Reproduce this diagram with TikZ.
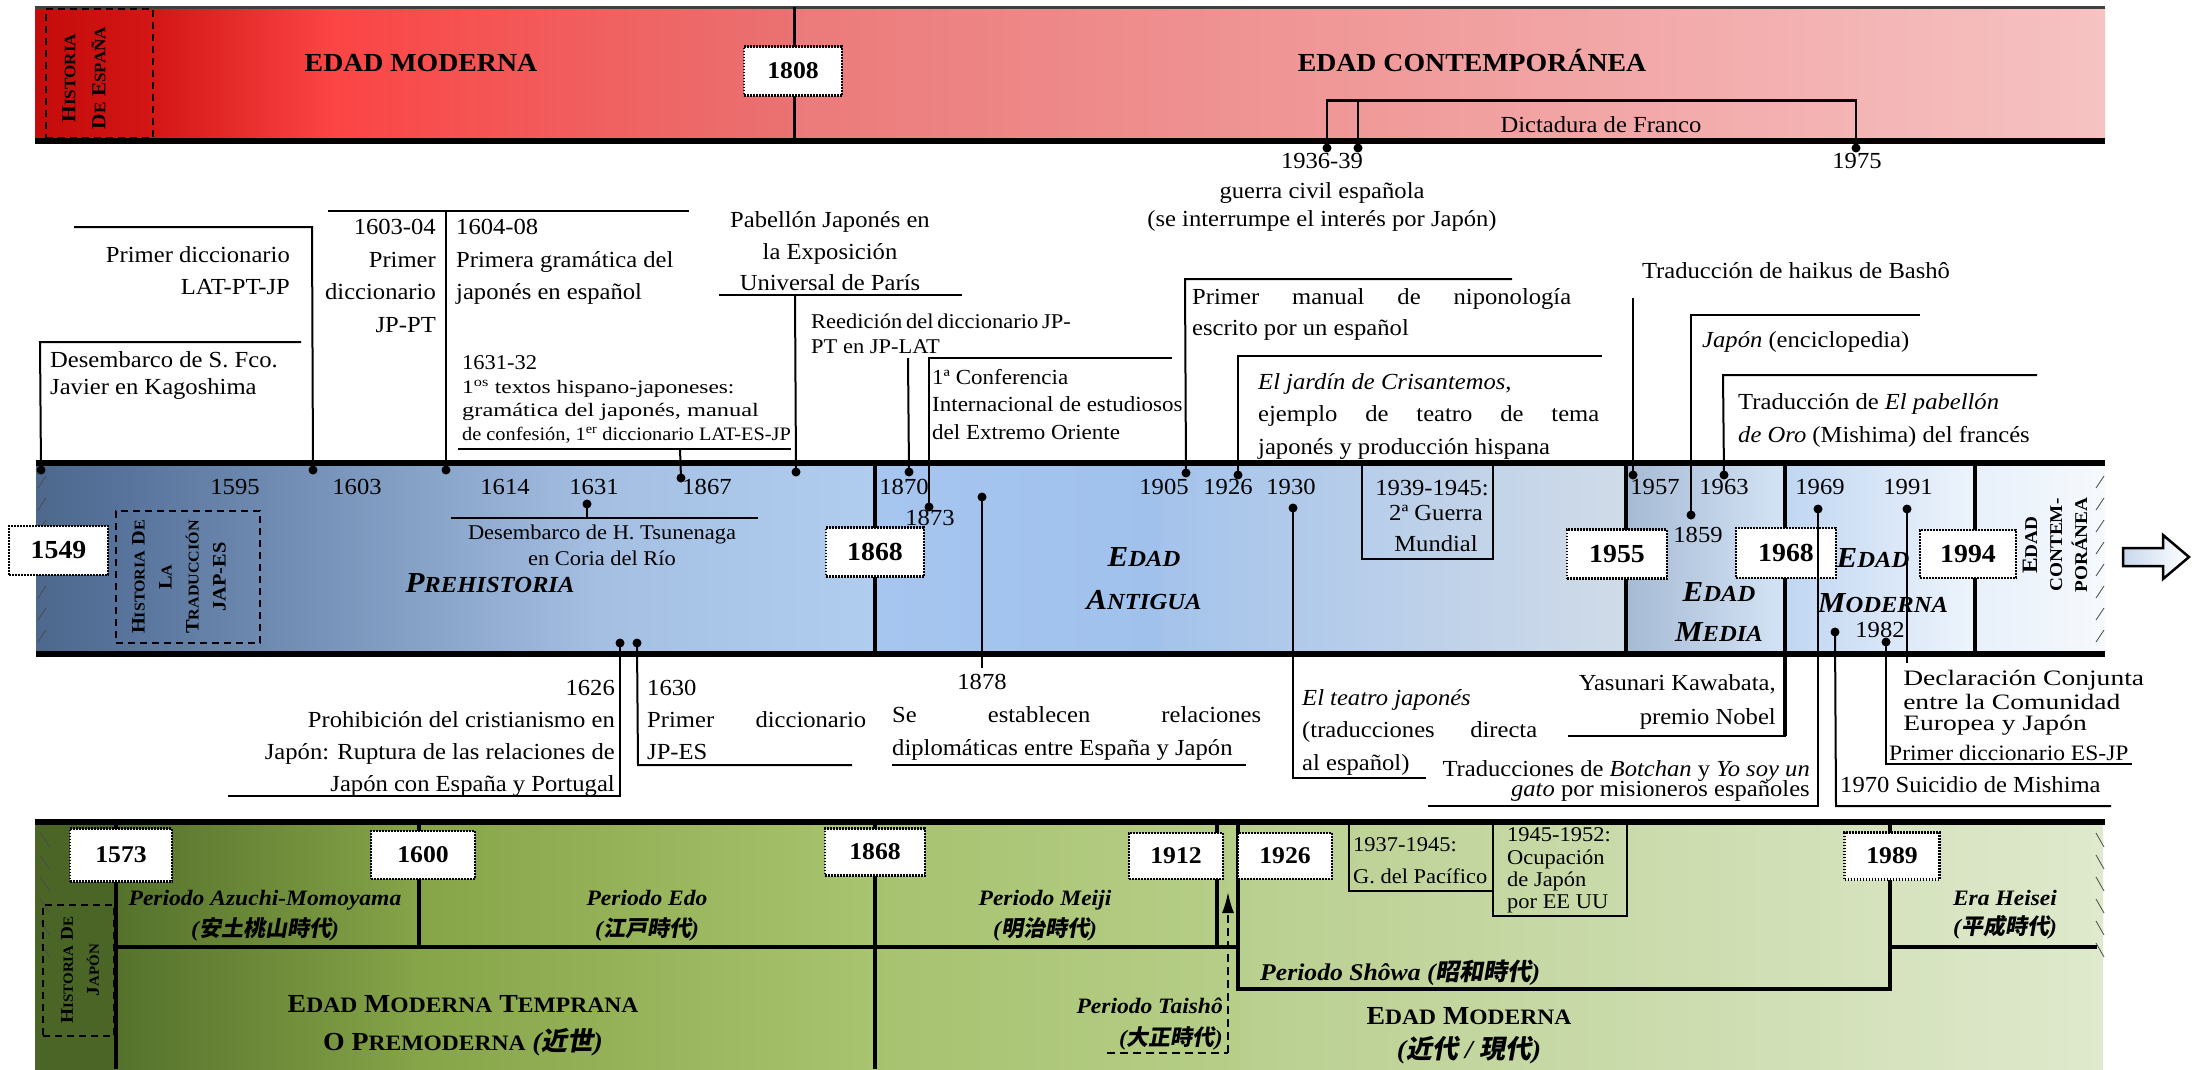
\documentclass[tikz,border=0pt]{standalone}
\usepackage{fontspec}
\setmainfont{Liberation Serif}[FakeStretch=1.07]
\newfontfamily\jpfont{Noto Sans CJK JP}[FakeSlant=0.18]
\usetikzlibrary{arrows.meta}

% colours of the three bands
\definecolor{rA}{HTML}{C50B0B}\definecolor{rB}{HTML}{D41616}\definecolor{rC}{HTML}{FC4444}
\definecolor{rD}{HTML}{F06060}\definecolor{rE}{HTML}{EA7272}\definecolor{rF}{HTML}{EC7A7A}
\definecolor{rG}{HTML}{F6C2C2}
\definecolor{bA}{HTML}{4D688C}\definecolor{bB}{HTML}{56729A}\definecolor{bC}{HTML}{A4BFE2}
\definecolor{bD}{HTML}{B0CDF0}\definecolor{bE}{HTML}{A6C6F0}\definecolor{bF}{HTML}{A0C1EC}
\definecolor{bG}{HTML}{A4C3EB}\definecolor{bH}{HTML}{D0DBE8}\definecolor{bI}{HTML}{A6BAD4}
\definecolor{bJ}{HTML}{D4E4F6}\definecolor{bK}{HTML}{C0D6F2}\definecolor{bL}{HTML}{EEF4FC}
\definecolor{bM}{HTML}{E8F0FA}\definecolor{bN}{HTML}{F6F9FD}
\definecolor{gA}{HTML}{4A6526}\definecolor{gB}{HTML}{55722C}\definecolor{gC}{HTML}{86A448}
\definecolor{gD}{HTML}{A9C46F}\definecolor{gE}{HTML}{A7C26F}\definecolor{gF}{HTML}{B6CE88}
\definecolor{gG}{HTML}{B9CF8F}\definecolor{gH}{HTML}{DFE9CD}

% fake small capitals: first letter, then the rest at a smaller size
\newcommand{\fsc}[3]{#1{\fontsize{#3}{#3}\selectfont #2}}
\newcommand{\jp}[1]{{\jpfont #1}}

\tikzset{
  lbl/.style={inner sep=0pt},
  fxxiii/.style={font=\fontsize{23}{27}\selectfont},
  fxxii/.style={font=\fontsize{22}{26}\selectfont},
  fxxi/.style={font=\fontsize{21}{25}\selectfont},
  fxix/.style={font=\fontsize{19}{23}\selectfont},
  yrbox/.style={draw, line width=2.4pt, dash pattern=on 1.6pt off 1.4pt, fill=white,
    inner sep=0pt, font=\bfseries\fontsize{24}{28}\selectfont},
  conn/.style={line width=2pt},
  bandline/.style={line width=6pt},
  sepline/.style={line width=3.5pt},
  tick/.style={circle, fill=black, inner sep=0pt, minimum size=9pt},
  hatch/.style={line width=0.8pt, black!70},
  head/.style={inner sep=0pt, font=\bfseries\fontsize{26}{31}\selectfont},
  era/.style={inner sep=0pt, font=\bfseries\itshape\fontsize{29}{33}\selectfont},
  jper/.style={inner sep=0pt, font=\bfseries\itshape\fontsize{22}{26}\selectfont},
}

\begin{document}
\begin{tikzpicture}[x=1pt,y=-1pt]
\useasboundingbox (0,0) rectangle (2193,1069);

% ================= Spanish history band =================
\shade[left color=rA, right color=rB] (35,7) rectangle (155,141);
\shade[left color=rB, right color=rC] (155,7) rectangle (330,141);
\shade[left color=rC, right color=rD] (330,7) rectangle (600,141);
\shade[left color=rD, right color=rE] (600,7) rectangle (794,141);
\shade[left color=rF, right color=rG] (794,7) rectangle (2105,141);
\draw[line width=3pt, black!75] (35,7) -- (2105,7);
\draw[bandline] (35,141) -- (2105,141);
\draw[line width=3pt] (794,7) -- (794,141);

\node[draw, line width=1.8pt, dash pattern=on 7pt off 5pt, minimum width=107pt, minimum height=129pt, inner sep=0pt] (hesp) at (99.5,73.5) {};
\node[lbl, rotate=90, align=center, font=\bfseries\fontsize{20}{30}\selectfont] (hesptxt) at (84,78)
  {\fsc{H}{ISTORIA}{16}\\\fsc{D}{E}{16} \fsc{E}{SPAÑA}{16}};

\node[head] (emod) at (421,71) [anchor=base] {EDAD MODERNA};
\node[head] (econ) at (1472,71) [anchor=base] {EDAD CONTEMPORÁNEA};
\node[yrbox, minimum width=98pt, minimum height=49pt] (y1808) at (793,71) {1808};

\node[tick] (dfa) at (1327,148) {};
\node[tick] (dfb) at (1358,148) {};
\node[tick] (dfc) at (1856,148) {};
\draw[conn] (dfa.center) -- (1327,100) -- (1856,100) -- (dfc.center);
\draw[conn] (dfb.center) -- (1358,100);
\draw[line width=3pt] (1327,100) -- (1856,100);
\node[lbl, fxxiii, anchor=base] (franco) at (1601,132) {Dictadura de Franco};
\node[lbl, fxxiii, anchor=base] (y1936) at (1322,168) {1936-39};
\node[lbl, fxxiii, anchor=base] (y1975) at (1857,168) {1975};
\node[lbl, fxxiii, anchor=base] (gce1) at (1322,198) {guerra civil española};
\node[lbl, fxxiii, anchor=base] (gce2) at (1322,226) {(se interrumpe el interés por Japón)};

% ================= translation history band =================
\shade[left color=bA, right color=bB] (36,463) rectangle (115,654);
\shade[left color=bB, right color=bC] (115,463) rectangle (600,654);
\shade[left color=bC, right color=bD] (600,463) rectangle (875,654);
\shade[left color=bE, right color=bF] (875,463) rectangle (1160,654);
\shade[left color=bG, right color=bH] (1160,463) rectangle (1626,654);
\shade[left color=bI, right color=bJ] (1626,463) rectangle (1785,654);
\shade[left color=bK, right color=bL] (1785,463) rectangle (1975,654);
\shade[left color=bM, right color=bN] (1975,463) rectangle (2105,654);
\foreach \yy in {482,504,...,640} {
  \draw[hatch] (38,\yy+6) -- (46,\yy-6);
  \draw[hatch] (2096,\yy+6) -- (2104,\yy-6);
}
\draw[bandline] (36,463) -- (2105,463);
\draw[bandline] (36,654) -- (2105,654);
\draw[sepline] (875,463) -- (875,654);
\draw[sepline] (1626,463) -- (1626,654);
\draw[sepline] (1785,463) -- (1785,736);
\draw[sepline] (1975,463) -- (1975,654);

\node[draw, line width=1.8pt, dash pattern=on 7pt off 5pt, minimum width=144pt, minimum height=132pt, inner sep=0pt] (htra) at (188,577) {};
\node[lbl, rotate=90, align=center, font=\bfseries\fontsize{19}{27}\selectfont] (htratxt) at (179,577)
  {\fsc{H}{ISTORIA}{15} \fsc{D}{E}{15}\\\fsc{L}{A}{15}\\\fsc{T}{RADUCCIÓN}{15}\\JAP-ES};

\node[yrbox, minimum width=99pt, minimum height=49pt, font=\bfseries\fontsize{26}{30}\selectfont] (y1549) at (58.5,550.5) {1549};
\node[yrbox, minimum width=98pt, minimum height=49pt, font=\bfseries\fontsize{26}{30}\selectfont] (y1868b) at (875,552) {1868};
\node[yrbox, minimum width=100pt, minimum height=49pt, font=\bfseries\fontsize{26}{30}\selectfont] (y1955) at (1617,554) {1955};
\node[yrbox, minimum width=100pt, minimum height=50pt, font=\bfseries\fontsize{26}{30}\selectfont] (y1968) at (1786,553) {1968};
\node[yrbox, minimum width=96pt, minimum height=48pt, font=\bfseries\fontsize{26}{30}\selectfont] (y1994) at (1968,554) {1994};

\node[era, anchor=base] (preh) at (490,592) {\fsc{P}{REHISTORIA}{23}};
\node[era, anchor=base] (anta) at (1144,566) {\fsc{E}{DAD}{23}};
\node[era, anchor=base] (antb) at (1144,609) {\fsc{A}{NTIGUA}{23}};
\node[era, anchor=base] (meda) at (1719,601) {\fsc{E}{DAD}{23}};
\node[era, anchor=base] (medb) at (1719,641) {\fsc{M}{EDIA}{23}};
\node[era, anchor=base] (moda) at (1873,567) {\fsc{E}{DAD}{23}};
\node[era, anchor=base] (modb) at (1883,612) {\fsc{M}{ODERNA}{23}};
\node[lbl, rotate=90, align=center, font=\bfseries\fontsize{18}{25}\selectfont] (contxt) at (2055,545)
  {{\fontsize{22}{26}\selectfont\fsc{E}{DAD}{18}}\\CONTEM-\\PORÁNEA};

% years printed inside the band
\foreach \nm/\xx/\yy/\tt in {a/235/494/1595, b/357/494/1603, c/505/494/1614, d/594/494/1631,
  e/707/494/1867, f/904/494/1870, g/930/525/1873, h/1164/494/1905, i/1228/494/1926,
  j/1291/494/1930, k/1655/494/1957, l/1724/494/1963, m/1698/542/1859, n/1820/494/1969,
  o/1908/494/1991, p/1880/637/1982}
  \node[lbl, fxxiii, anchor=base] (yr\nm) at (\xx,\yy) {\tt};

% Tsunenaga
\node[tick] (dtsu) at (587,504) {};
\draw[conn] (dtsu.center) -- (587,518);
\draw[conn] (451,518) -- (758,518);
\node[lbl, fxxi, anchor=base] (tsu1) at (602,539) {Desembarco de H. Tsunenaga};
\node[lbl, fxxi, anchor=base] (tsu2) at (602,565) {en Coria del Río};

% 1939-1945
\draw[conn] (1362,463) -- (1362,559) -- (1493,559) -- (1493,463);
\node[lbl, fxxiii, anchor=base] (gm1) at (1432,495) {1939-1945:};
\node[lbl, fxxiii, anchor=base] (gm2) at (1436,520) {2ª Guerra};
\node[lbl, fxxiii, anchor=base] (gm3) at (1436,551) {Mundial};

% right-hand arrow
\shade[left color=bC!60, right color=white, draw=black, line width=2.5pt]
  (2123,548) -- (2163,548) -- (2163,535) -- (2189,557) -- (2163,579) -- (2163,566) -- (2123,566) -- cycle;

% ================= events above the band =================
\node[tick] (d1549) at (41,470) {};
\draw[conn] (d1549.center) -- (40,342) -- (301,342);
\node[lbl, fxxiii, anchor=base west] (ev1a) at (50,367) {Desembarco de S. Fco.};
\node[lbl, fxxiii, anchor=base west] (ev1b) at (50,394) {Javier en Kagoshima};

\node[tick] (d1595) at (313,470) {};
\draw[conn] (d1595.center) -- (312,227) -- (74,227);
\node[lbl, fxxiii, anchor=base east] (ev2a) at (290,262) {Primer diccionario};
\node[lbl, fxxiii, anchor=base east] (ev2b) at (290,294) {LAT-PT-JP};

\node[tick] (d1603) at (446,470) {};
\draw[conn] (d1603.center) -- (446,211);
\draw[conn] (328,211) -- (689,211);
\node[lbl, fxxiii, anchor=base east] (ev3a) at (436,234) {1603-04};
\node[lbl, fxxiii, anchor=base east] (ev3b) at (436,267) {Primer};
\node[lbl, fxxiii, anchor=base east] (ev3c) at (436,299) {diccionario};
\node[lbl, fxxiii, anchor=base east] (ev3d) at (436,332) {JP-PT};
\node[lbl, fxxiii, anchor=base west] (ev4a) at (456,234) {1604-08};
\node[lbl, fxxiii, anchor=base west] (ev4b) at (456,267) {Primera gramática del};
\node[lbl, fxxiii, anchor=base west] (ev4c) at (456,299) {japonés en español};

\node[tick] (d1867) at (681,478) {};
\draw[conn] (d1867.center) -- (680,449);
\draw[conn] (458,449) -- (791,449);
\node[lbl, fxxi, anchor=base west] (ev5a) at (462,369) {1631-32};
\node[lbl, fxix, anchor=base west, xscale=1.15] (ev5b) at (462,393) {1\textsuperscript{os} textos hispano-japoneses:};
\node[lbl, fxix, anchor=base west, xscale=1.2] (ev5c) at (462,416) {gramática del japonés, manual};
\node[lbl, fxix, anchor=base west] (ev5d) at (462,440) {de confesión, 1\textsuperscript{er} diccionario LAT-ES-JP};

\node[tick] (dpab) at (796,472) {};
\draw[conn] (dpab.center) -- (795,295);
\draw[conn] (719,295) -- (962,295);
\node[lbl, fxxiii, anchor=base] (ev6a) at (830,227) {Pabellón Japonés en};
\node[lbl, fxxiii, anchor=base] (ev6b) at (830,259) {la Exposición};
\node[lbl, fxxiii, anchor=base] (ev6c) at (830,290) {Universal de París};

\node[tick] (d1870) at (909,472) {};
\draw[conn] (d1870.center) -- (908,358);
\node[lbl, fxxi, anchor=base west] (ev7a) at (811,328) {\makebox[257pt][s]{Reedición del diccionario JP-}};
\node[lbl, fxxi, anchor=base west] (ev7b) at (811,353) {PT en JP-LAT};

\node[tick] (d1873) at (929,507) {};
\draw[conn] (d1873.center) -- (929,358) -- (1172,358);
\node[lbl, font=\fontsize{21.5}{25}\selectfont, anchor=base west] (ev8a) at (932,384) {1ª Conferencia};
\node[lbl, font=\fontsize{21.5}{25}\selectfont, anchor=base west] (ev8b) at (932,411) {Internacional de estudiosos};
\node[lbl, font=\fontsize{21.5}{25}\selectfont, anchor=base west] (ev8c) at (932,439) {del Extremo Oriente};

\node[tick] (d1905) at (1186,473) {};
\draw[conn] (d1905.center) -- (1185,279) -- (1512,279);
\node[lbl, fxxiii, anchor=base west] (ev9a) at (1192,304) {\makebox[379pt][s]{Primer manual de niponología}};
\node[lbl, fxxiii, anchor=base west] (ev9b) at (1192,335) {escrito por un español};

\node[tick] (d1926) at (1238,475) {};
\draw[conn] (d1926.center) -- (1238,356) -- (1602,356);
\node[lbl, fxxiii, anchor=base west] (ev10a) at (1258,389) {\textit{El jardín de Crisantemos},};
\node[lbl, fxxiii, anchor=base west] (ev10b) at (1258,421) {\makebox[341pt][s]{ejemplo de teatro de tema}};
\node[lbl, fxxiii, anchor=base west] (ev10c) at (1258,454) {japonés y producción hispana};

\node[tick] (d1957) at (1633,475) {};
\draw[conn] (d1957.center) -- (1633,298);
\node[lbl, fxxiii, anchor=base] (ev11) at (1796,278) {Traducción de haikus de Bashô};

\node[tick] (d1859) at (1691,515) {};
\draw[conn] (d1859.center) -- (1691,315) -- (1920,315);
\node[lbl, fxxiii, anchor=base west] (ev12) at (1702,347) {\textit{Japón} (enciclopedia)};

\node[tick] (d1963) at (1724,475) {};
\draw[conn] (d1963.center) -- (1723,375) -- (2037,375);
\node[lbl, fxxiii, anchor=base west] (ev13a) at (1738,409) {Traducción de \textit{El pabellón}};
\node[lbl, fxxiii, anchor=base west] (ev13b) at (1738,442) {\textit{de Oro} (Mishima) del francés};

% ================= events below the band =================
\node[tick] (d1626) at (620,643) {};
\draw[conn] (d1626.center) -- (620,796) -- (228,796);
\node[lbl, fxxiii, anchor=base east] (ev14a) at (615,695) {1626};
\node[lbl, fxxiii, anchor=base east] (ev14b) at (615,727) {Prohibición del cristianismo en};
\node[lbl, fxxiii, anchor=base east] (ev14c) at (615,759) {Japón: Ruptura de las relaciones de};
\node[lbl, fxxiii, anchor=base east] (ev14d) at (615,791) {Japón con España y Portugal};

\node[tick] (d1630) at (637,643) {};
\draw[conn] (d1630.center) -- (638,765) -- (852,765);
\node[lbl, fxxiii, anchor=base west] (ev15a) at (647,695) {1630};
\node[lbl, fxxiii, anchor=base west] (ev15b) at (647,727) {\makebox[219pt][s]{Primer diccionario}};
\node[lbl, fxxiii, anchor=base west] (ev15c) at (647,759) {JP-ES};

\node[tick] (d1878) at (982,497) {};
\draw[conn] (d1878.center) -- (982,668);
\node[lbl, fxxiii, anchor=base] (ev16a) at (982,689) {1878};
\node[lbl, fxxiii, anchor=base west] (ev16b) at (892,722) {\makebox[369pt][s]{Se establecen relaciones}};
\node[lbl, fxxiii, anchor=base west] (ev16c) at (892,755) {diplomáticas entre España y Japón};
\draw[conn] (892,765) -- (1246,765);

\node[tick] (d1930) at (1293,508) {};
\draw[conn] (d1930.center) -- (1293,778) -- (1426,778);
\node[lbl, fxxiii, anchor=base west] (ev17a) at (1302,705) {\textit{El teatro japonés}};
\node[lbl, fxxiii, anchor=base west] (ev17b) at (1302,737) {\makebox[235pt][s]{(traducciones directa}};
\node[lbl, fxxiii, anchor=base west] (ev17c) at (1302,770) {al español)};

\node[tick] (d1969) at (1818,509) {};
\draw[conn] (d1969.center) -- (1818,806) -- (1428,806);
\node[lbl, fxxiii, anchor=base east] (ev18a) at (1810,776) {Traducciones de \textit{Botchan} y \textit{Yo soy un}};
\node[lbl, fxxiii, anchor=base east] (ev18b) at (1810,796) {\textit{gato} por misioneros españoles};

\draw[conn] (1786,736) -- (1568,736);
\node[lbl, fxxiii, anchor=base east] (ev19a) at (1776,690) {Yasunari Kawabata,};
\node[lbl, fxxiii, anchor=base east] (ev19b) at (1776,724) {premio Nobel};

\node[tick] (d1991) at (1907,509) {};
\draw[conn] (d1991.center) -- (1907,663);
\node[lbl, fxxii, anchor=base west, xscale=1.17] (ev20a) at (1903,685) {Declaración Conjunta};
\node[lbl, fxxii, anchor=base west, xscale=1.17] (ev20b) at (1903,709) {entre la Comunidad};
\node[lbl, fxxii, anchor=base west, xscale=1.17] (ev20c) at (1903,730) {Europea y Japón};

\node[tick] (d1982) at (1886,642) {};
\draw[conn] (d1982.center) -- (1886,764) -- (2132,764);
\node[lbl, fxxii, anchor=base west] (ev21) at (1889,760) {Primer diccionario ES-JP};

\node[tick] (d1970) at (1835,632) {};
\draw[conn] (d1970.center) -- (1836,806) -- (2111,806);
\node[lbl, fxxiii, anchor=base west] (ev22) at (1840,792) {1970 Suicidio de Mishima};

% ================= Japanese history band =================
\shade[left color=gA, right color=gA] (35,822) rectangle (116,1069);
\shade[left color=gB, right color=gC] (116,822) rectangle (420,1069);
\shade[left color=gC, right color=gD] (420,822) rectangle (875,1069);
\shade[left color=gE, right color=gF] (875,822) rectangle (1240,1069);
\shade[left color=gG, right color=gH] (1240,822) rectangle (2103,1069);
\foreach \yy in {840,862,...,950} {
  \draw[hatch] (40,\yy-7) -- (50,\yy+7);
  \draw[hatch] (2096,\yy-7) -- (2104,\yy+7);
}
\draw[bandline] (35,822) -- (2105,822);
\draw[sepline] (116,822) -- (116,1069);
\draw[sepline] (419,822) -- (419,947);
\draw[sepline] (875,822) -- (875,1069);
\draw[sepline] (1217,822) -- (1217,947);
\draw[sepline] (116,947) -- (1238,947);
\draw[sepline] (1238,822) -- (1238,989) -- (1890,989) -- (1890,822);
\draw[sepline] (1890,947) -- (2097,947);
\draw[conn] (1349,822) -- (1349,891) -- (1493,891);
\draw[conn] (1493,822) -- (1493,916) -- (1627,916) -- (1627,822);

\node[draw, line width=1.8pt, dash pattern=on 7pt off 5pt, minimum width=71pt, minimum height=131pt, inner sep=0pt] (hjap) at (78.5,970.5) {};
\node[lbl, rotate=90, align=center, font=\bfseries\fontsize{18}{26}\selectfont] (hjaptxt) at (80,970)
  {\fsc{H}{ISTORIA}{14} \fsc{D}{E}{14}\\\fsc{J}{APÓN}{14}};

\node[yrbox, minimum width=102pt, minimum height=53pt] (g1573) at (121,855) {1573};
\node[yrbox, minimum width=104pt, minimum height=48pt] (g1600) at (423,855) {1600};
\node[yrbox, minimum width=100pt, minimum height=47pt] (g1868) at (875,852) {1868};
\node[yrbox, minimum width=94pt, minimum height=46pt] (g1912) at (1176,856) {1912};
\node[yrbox, minimum width=94pt, minimum height=46pt] (g1926) at (1285,856) {1926};
\node[yrbox, minimum width=95pt, minimum height=47pt] (g1989) at (1892,856) {1989};

\node[jper, anchor=base] (azu1) at (265,905) {Periodo Azuchi-Momoyama};
\node[jper, anchor=base] (azu2) at (265,936) {(\jp{安土桃山時代})};
\node[jper, anchor=base] (edo1) at (647,905) {Periodo Edo};
\node[jper, anchor=base] (edo2) at (647,936) {(\jp{江戸時代})};
\node[jper, anchor=base] (mei1) at (1045,905) {Periodo Meiji};
\node[jper, anchor=base] (mei2) at (1045,936) {(\jp{明治時代})};

\node[head, anchor=base] (emt1) at (463,1012) {\fsc{E}{DAD}{22} \fsc{M}{ODERNA}{22} \fsc{T}{EMPRANA}{22}};
\node[head, anchor=base] (emt2) at (463,1050) {\fsc{O}{}{22} \fsc{P}{REMODERNA}{22} \textit{(\jp{近世})}};

\node[jper, anchor=base east] (tai1) at (1223,1013) {Periodo Taishô};
\node[jper, anchor=base east] (tai2) at (1223,1045) {(\jp{大正時代})};
\draw[line width=2pt, dash pattern=on 8pt off 5pt] (1107,1053) -- (1228,1053);
\draw[line width=2pt, dash pattern=on 8pt off 5pt, -{Latex[length=21pt,width=12pt]}] (1228,1053) -- (1228,892);

\node[lbl, fxxi, anchor=base west] (pac1) at (1353,851) {1937-1945:};
\node[lbl, fxxi, anchor=base west] (pac2) at (1353,883) {G. del Pacífico};
\node[lbl, fxxi, anchor=base west] (ocu1) at (1507,841) {1945-1952:};
\node[lbl, fxxi, anchor=base west] (ocu2) at (1507,864) {Ocupación};
\node[lbl, fxxi, anchor=base west] (ocu3) at (1507,886) {de Japón};
\node[lbl, fxxi, anchor=base west] (ocu4) at (1507,908) {por EE UU};

\node[jper, anchor=base west, font=\bfseries\itshape\fontsize{24}{28}\selectfont] (sho) at (1260,980) {Periodo Shôwa (\jp{昭和時代})};
\node[jper, anchor=base] (hei1) at (2005,905) {Era Heisei};
\node[jper, anchor=base] (hei2) at (2005,934) {(\jp{平成時代})};

\node[head, anchor=base] (emj1) at (1469,1024) {\fsc{E}{DAD}{22} \fsc{M}{ODERNA}{22}};
\node[head, anchor=base] (emj2) at (1469,1058) {\textit{(\jp{近代} / \jp{現代})}};

\end{tikzpicture}
\end{document}
